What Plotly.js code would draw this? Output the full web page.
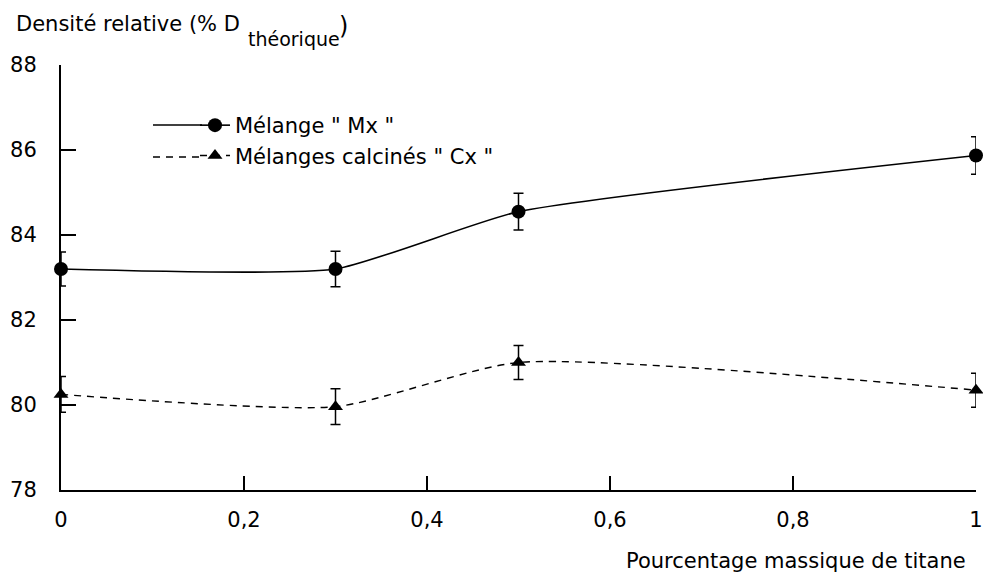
<!DOCTYPE html>
<html>
<head>
<meta charset="utf-8">
<script src="https://cdn.plot.ly/plotly-3.0.1.min.js"></script>
<style>html,body{margin:0;padding:0;background:#fff;}#chart{width:983px;height:576px;}</style>
</head>
<body>
<div id="chart"></div>
<script>
// Data
var xTitane = [0, 0.3, 0.5, 1];
var mxValues = [83.2, 83.2, 84.55, 85.87];
var mxErrors = [0.4, 0.42, 0.43, 0.44];
var cxValues = [80.25, 79.96, 81.0, 80.35];
var cxErrors = [0.42, 0.42, 0.4, 0.4];
var mxName = 'Mélange " Mx "';
var cxName = 'Mélanges calcinés " Cx "';
var xTickVals = [0, 0.2, 0.4, 0.6, 0.8, 1];
var yTickVals = [78, 80, 82, 84, 86, 88];

var font = '"DejaVu Sans", Arial, sans-serif';
var fs = 21;

// pixel -> paper helpers (plot area: x 61..976, y 65..490)
function px(x) { return (x - 61) / 915; }
function py(y) { return (490 - y) / 425; }

var traces = [
  {
    x: xTitane, y: mxValues, name: mxName, type: 'scatter', mode: 'lines+markers',
    legendgroup: 'mx',
    line: {color: '#000', width: 1.6, shape: 'spline', smoothing: 0.5},
    marker: {symbol: 'circle', size: 14, color: '#000'},
    error_y: {type: 'data', array: mxErrors, visible: true, color: '#000', thickness: 1.5, width: 5},
    cliponaxis: false
  },
  {
    x: xTitane, y: cxValues, name: cxName, type: 'scatter', mode: 'lines+markers',
    legendgroup: 'cx',
    line: {color: '#000', width: 1.4, dash: '7px,6px', shape: 'spline', smoothing: 0.6},
    marker: {symbol: 'triangle-up', size: 13, color: '#000'},
    error_y: {type: 'data', array: cxErrors, visible: true, color: '#000', thickness: 1.5, width: 5},
    cliponaxis: false
  }
];

var row1 = 125, row2 = 157;

var layout = {
  width: 983, height: 576,
  paper_bgcolor: '#fff', plot_bgcolor: '#fff',
  separators: ', ',
  font: {family: font, size: fs, color: '#000'},
  margin: {l: 61, r: 7, t: 65, b: 86},
  showlegend: true,
  legend: {
    x: px(195), y: py(105), xanchor: 'left', yanchor: 'top',
    bgcolor: 'rgba(0,0,0,0)', borderwidth: 0,
    font: {family: font, size: fs, color: '#000'},
    traceorder: 'grouped', tracegroupgap: 0
  },
  xaxis: {
    range: [0, 1], tickvals: xTickVals, ticks: 'inside', ticklen: 14, tickwidth: 1.5, tickcolor: '#000',
    showline: true, linecolor: '#000', linewidth: 2, showgrid: false, zeroline: false,
    ticklabelstandoff: 10, tickfont: {family: font, size: fs, color: '#000'}
  },
  yaxis: {
    range: [78, 88], tickvals: yTickVals, ticks: 'inside', ticklen: 15, tickwidth: 1.5, tickcolor: '#000',
    showline: true, linecolor: '#000', linewidth: 2, showgrid: false, zeroline: false,
    ticklabelstandoff: 18, tickfont: {family: font, size: fs, color: '#000'}
  },
  shapes: [
    {type: 'line', xref: 'paper', yref: 'paper', x0: px(153), x1: px(202), y0: py(row1), y1: py(row1),
     line: {color: '#000', width: 1.6}},
    {type: 'line', xref: 'paper', yref: 'paper', x0: px(153), x1: px(202), y0: py(row2), y1: py(row2),
     line: {color: '#000', width: 1.4, dash: '7px,6px'}}
  ],
  annotations: [
    {
      text: 'Densité relative (% D', xref: 'paper', yref: 'paper',
      x: px(14), y: py(24), xanchor: 'left', yanchor: 'middle', showarrow: false,
      font: {family: font, size: fs, color: '#000'}
    },
    {
      text: 'théorique', xref: 'paper', yref: 'paper',
      x: px(246), y: py(39), xanchor: 'left', yanchor: 'middle', showarrow: false,
      font: {family: font, size: 19, color: '#000'}
    },
    {
      text: ')', xref: 'paper', yref: 'paper',
      x: px(337), y: py(26), xanchor: 'left', yanchor: 'middle', showarrow: false,
      font: {family: font, size: 24, color: '#000'}
    },
    {
      text: 'Pourcentage massique de titane', xref: 'paper', yref: 'paper',
      x: px(968), y: py(561), xanchor: 'right', yanchor: 'middle', showarrow: false,
      font: {family: font, size: fs, color: '#000'}
    }
  ]
};

Plotly.newPlot('chart', traces, layout, {displayModeBar: false, staticPlot: true});
</script>
</body>
</html>
